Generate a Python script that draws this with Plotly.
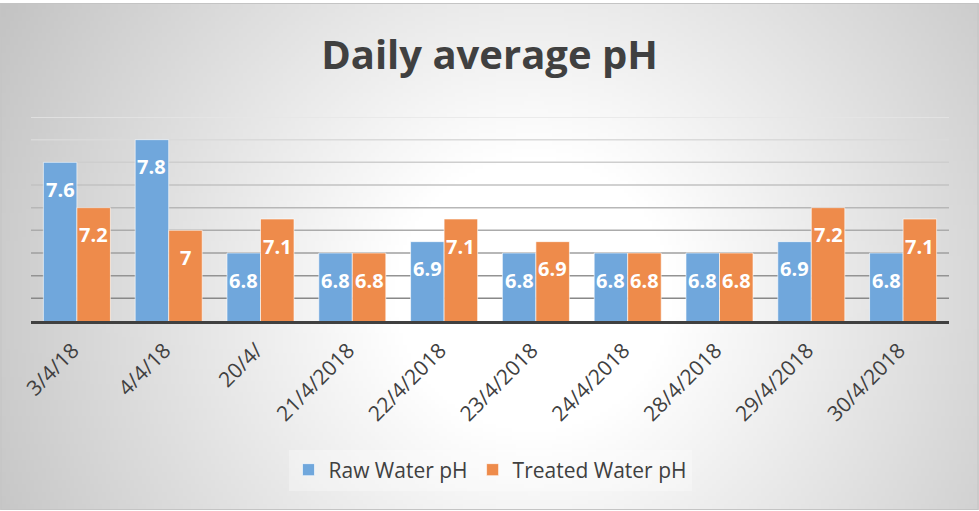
import base64, struct, zlib
import numpy as np
import plotly.graph_objects as go

categories = ['3/4/18', '4/4/18', '20/4/', '21/4/2018', '22/4/2018',
              '23/4/2018', '24/4/2018', '28/4/2018', '29/4/2018', '30/4/2018']
raw_ph = [7.6, 7.8, 6.8, 6.8, 6.9, 6.8, 6.8, 6.8, 6.9, 6.8]
treated_ph = [7.2, 7.0, 7.1, 6.8, 7.1, 6.9, 6.8, 6.8, 7.2, 7.1]
y_ticks = [6.4, 6.6, 6.8, 7.0, 7.2, 7.4, 7.6, 7.8, 8.0]

W, H = 979, 511
L, R, T, B = 31, 30, 117, 190
pw, ph = W - L - R, H - T - B
FONT = 'Open Sans'


def gray_png(a):
  # a: 2d uint8 array -> data uri of a grayscale png
  rows = b''.join(b'\x00' + r.tobytes() for r in a)
  def chunk(t, d):
    c = t + d
    return struct.pack('>I', len(d)) + c + struct.pack('>I', zlib.crc32(c) & 0xffffffff)
  h, w = a.shape
  png = b'\x89PNG\r\n\x1a\n' + chunk(b'IHDR', struct.pack('>IIBBBBB', w, h, 8, 0, 0, 0, 0))
  png += chunk(b'IDAT', zlib.compress(rows, 9)) + chunk(b'IEND', b'')
  return 'data:image/png;base64,' + base64.b64encode(png).decode()


# radial background, white centre fading to grey at the edges
s = 4
gy, gx = np.mgrid[0:H // s, 0:W // s] * s
d = np.sqrt((gx - 530.0) ** 2 + (gy - 290.0) ** 2)
t = np.clip((d - 140) / 420, 0, 1.15)
bg = np.clip(255 - t * 54, 0, 255).astype(np.uint8)


def px(x, y):
  return (x - L) / pw, (H - B - y) / ph


fig = go.Figure()
fig.add_trace(go.Bar(x=categories, y=raw_ph, name='Raw Water pH',
                     marker_color='#70a7dc', marker_line=dict(color='rgba(255,255,255,0.6)', width=1)))
fig.add_trace(go.Bar(x=categories, y=treated_ph, name='Treated Water pH',
                     marker_color='#ee8b4b', marker_line=dict(color='rgba(255,255,255,0.6)', width=1)))

# gridlines get darker towards the bottom
for i, v in enumerate(y_ticks):
  c = int(0x88 + (0xe6 - 0x88) * i / (len(y_ticks) - 1))
  fig.add_shape(type='line', xref='paper', yref='y', x0=0, x1=1, y0=v, y1=v,
                line=dict(color=f'rgb({c},{c},{c})', width=1.5), layer='below')

half = pw / len(categories) * (1 - 0.27) / 4
for xs, vals in ((-half, raw_ph), (half, treated_ph)):
  for c, v in zip(categories, vals):
    fig.add_annotation(x=c, y=v, text=f'{v:g}', showarrow=False, xshift=xs, yshift=-27,
                       yanchor='middle', font=dict(family=FONT, size=20, color='white', weight='bold'))

x0, y0 = px(0, 3)
x1, y1 = px(W, 510)
fig.add_layout_image(source=gray_png(bg), xref='paper', yref='paper', x=x0, y=y0,
                     sizex=x1 - x0, sizey=y0 - y1, sizing='stretch', layer='below')
bx0, by0 = px(1, 3.5)
bx1, by1 = px(978, 509.5)
fig.add_shape(type='rect', xref='paper', yref='paper', x0=bx0, y0=by0, x1=bx1, y1=by1,
              line=dict(color='#c4c4c4', width=1))

fig.update_layout(
  width=W, height=H, margin=dict(l=L, r=R, t=T, b=B, autoexpand=False),
  paper_bgcolor='white', plot_bgcolor='rgba(0,0,0,0)',
  title=dict(text='Daily average pH', x=0.5, xanchor='center', y=1 - 55 / H, yanchor='middle',
             font=dict(family=FONT, size=40, color='#404040', weight='bold')),
  barmode='group', bargap=0.27, bargroupgap=0,
  showlegend=True,
  legend=dict(orientation='h', x=0.5, xanchor='center', y=px(0, 470)[1], yanchor='middle',
              font=dict(family=FONT, size=21, color='#404040'), bgcolor='rgba(255,255,255,0.3)'),
  font=dict(family=FONT, color='#404040'),
)
fig.update_xaxes(tickangle=-45, tickfont=dict(family=FONT, size=21, color='#404040'),
                 ticklabelstandoff=6, ticklabelshift=-4,
                 showline=True, linecolor='#404040', linewidth=3, showgrid=False, automargin=False)
fig.update_yaxes(range=[6.2, 8.0], showticklabels=False, showgrid=False, zeroline=False, automargin=False)

fig.write_html('out.html', config={'displayModeBar': False},
               post_script="document.body.style.margin='0';document.body.style.overflow='hidden';")
